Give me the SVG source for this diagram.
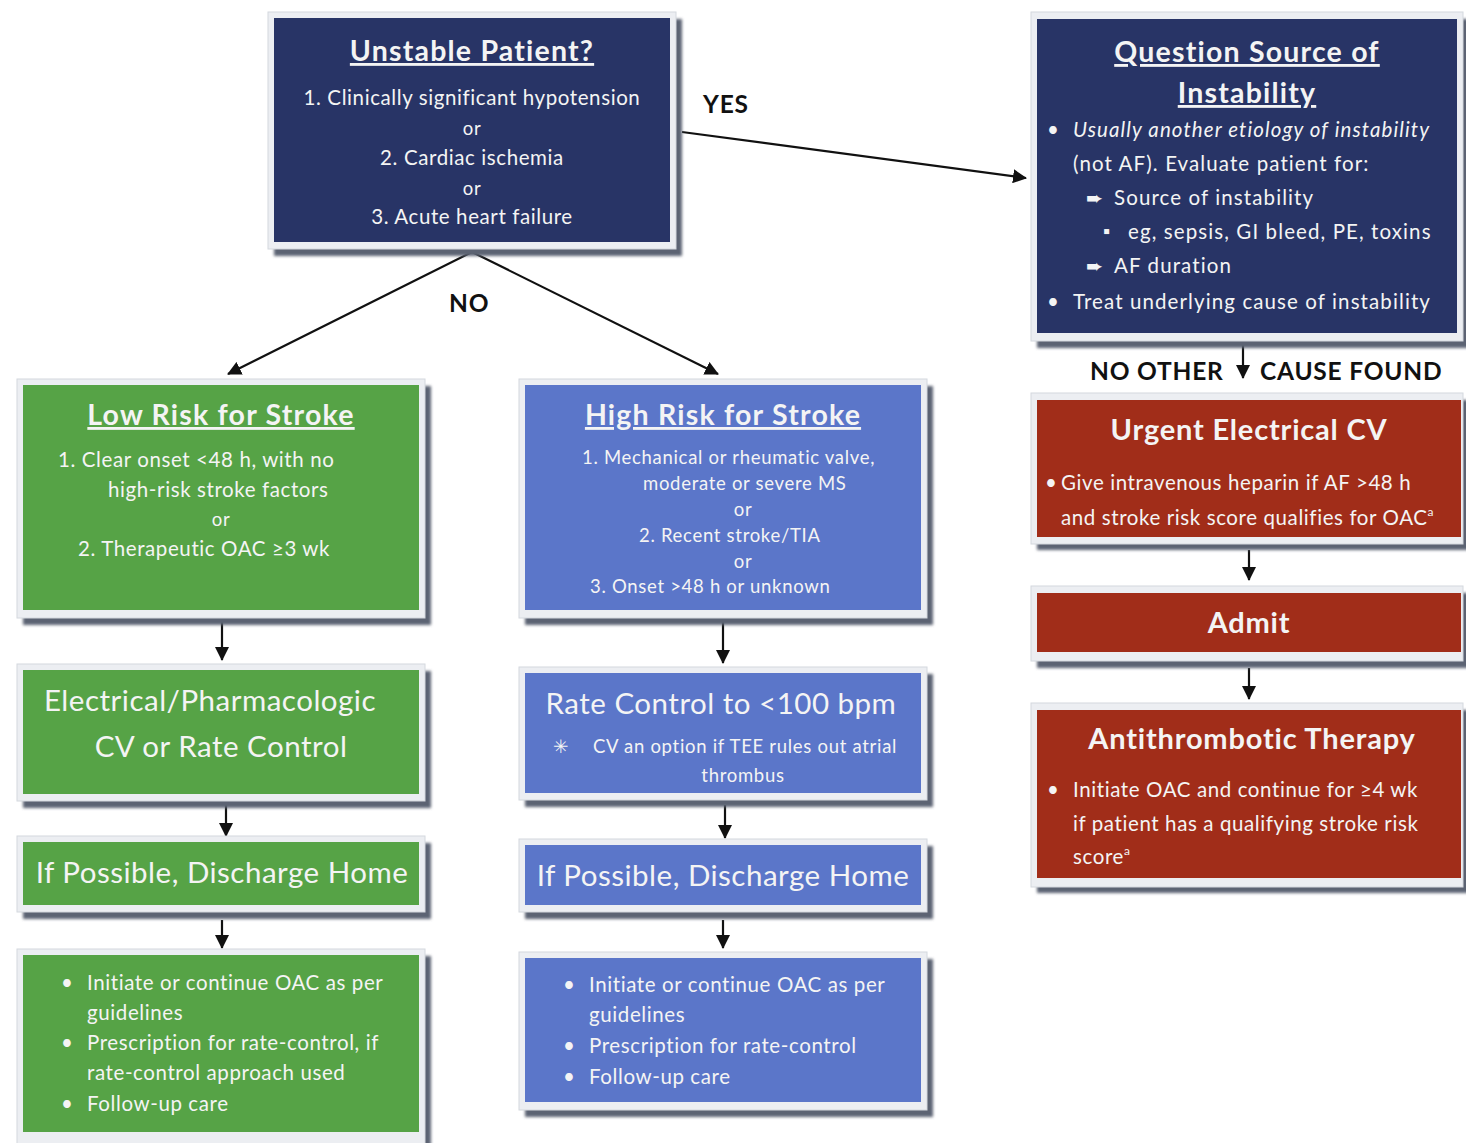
<svg xmlns="http://www.w3.org/2000/svg" width="1466" height="1143" viewBox="0 0 1466 1143">
<style>
text{font-family:Lato,"Open Sans","Liberation Sans",sans-serif;fill:#f4f4f4}
.t{font-size:28.5px;font-weight:bold;text-decoration:underline;text-anchor:middle;letter-spacing:1.2px}
.h{font-size:29px;font-weight:bold;text-anchor:middle;letter-spacing:0.8px}
.b{font-size:20.5px;letter-spacing:0.6px}
.q{font-size:20.5px;letter-spacing:1.1px}
.s{font-size:18.5px;letter-spacing:0.7px}
.c{text-anchor:middle}
.big{font-size:29.5px;letter-spacing:0.5px}
.lab{font-size:24.5px;font-weight:bold;fill:#111;letter-spacing:0.8px}
.sym{font-family:"DejaVu Sans",sans-serif;letter-spacing:0}
.frame{fill:#eceef2;stroke:#d4d8de;stroke-width:1}
.shadow{fill:#5c6373}
.navy{fill:#283466}
.green{fill:#56a346}
.blue{fill:#5b76c9}
.red{fill:#a12d19}
.con{stroke:#111;stroke-width:2.2;fill:none;marker-end:url(#ah)}
</style>
<defs>
<marker id="ah" viewBox="0 0 14 14" refX="13" refY="7" markerWidth="14" markerHeight="14" markerUnits="userSpaceOnUse" orient="auto">
<path d="M0,0 L14,7 L0,14 z" fill="#111"/>
</marker>
<filter id="blur" x="-5%" y="-5%" width="110%" height="110%"><feGaussianBlur stdDeviation="1.5"/></filter>
</defs>
<rect width="1466" height="1143" fill="#ffffff"/>

<g id="connectors">
<path class="con" d="M472,252 L228,374"/>
<path class="con" d="M472,252 L718,374"/>
<path class="con" d="M682,132 L1026,178"/>
<path class="con" d="M1243,344 L1243,378"/>
<path class="con" d="M1249,550 L1249,580"/>
<path class="con" d="M1249,668 L1249,699"/>
<path class="con" d="M222,622 L222,660"/>
<path class="con" d="M226,805 L226,836"/>
<path class="con" d="M222,920 L222,948"/>
<path class="con" d="M723,622 L723,663"/>
<path class="con" d="M725,805 L725,838"/>
<path class="con" d="M723,920 L723,948"/>
<text class="lab" x="703" y="113">YES</text>
<text class="lab" x="449" y="312">NO</text>
<text class="lab" x="1090" y="380">NO OTHER</text>
<text class="lab" x="1260" y="380">CAUSE FOUND</text>
</g>

<g id="unstable">
<rect class="shadow" filter="url(#blur)" x="274" y="19" width="408" height="237"/>
<rect class="frame" x="268" y="12" width="408" height="237"/>
<rect class="navy" x="274" y="18" width="396" height="224"/>
<text class="t" x="472" y="61">Unstable Patient?</text>
<text class="b c" x="472" y="105">1. Clinically significant hypotension</text>
<text class="s c" x="472" y="135">or</text>
<text class="b c" x="472" y="165">2. Cardiac ischemia</text>
<text class="s c" x="472" y="195">or</text>
<text class="b c" x="472" y="224">3. Acute heart failure</text>
</g>

<g id="question">
<rect class="shadow" filter="url(#blur)" x="1037" y="19" width="432" height="329"/>
<rect class="frame" x="1031" y="12" width="432" height="329"/>
<rect class="navy" x="1037" y="19" width="420" height="314"/>
<text class="t" x="1247" y="62">Question Source of</text>
<text class="t" x="1247" y="103">Instability</text>
<text class="q" x="1047" y="137">•</text>
<text class="q" x="1073" y="137" font-style="italic" letter-spacing="1.5">Usually another etiology  of instability</text>
<text class="q" x="1073" y="171">(not AF). Evaluate patient for:</text>
<text class="q sym" x="1086" y="205" font-size="20">➨</text>
<text class="q" x="1114" y="205">Source of instability</text>
<text class="s" x="1103" y="238">▪</text>
<text class="q" x="1128" y="239">eg, sepsis, GI bleed, PE, toxins</text>
<text class="q sym" x="1086" y="273" font-size="20">➨</text>
<text class="q" x="1114" y="273">AF duration</text>
<text class="q" x="1047" y="309">•</text>
<text class="q" x="1073" y="309">Treat underlying cause of instability</text>
</g>

<g id="urgent">
<rect class="shadow" filter="url(#blur)" x="1037" y="400" width="432" height="150"/>
<rect class="frame" x="1031" y="393" width="432" height="151"/>
<rect class="red" x="1037" y="400" width="424" height="137"/>
<text class="h" x="1249" y="440">Urgent Electrical CV</text>
<text class="b" x="1045" y="490">•</text>
<text class="b" x="1061" y="490">Give intravenous heparin if AF &gt;48 h</text>
<text class="b" x="1061" y="525">and stroke risk score qualifies for OAC<tspan font-size="12" dy="-9">a</tspan></text>
</g>

<g id="admit">
<rect class="shadow" filter="url(#blur)" x="1037" y="593" width="432" height="75"/>
<rect class="frame" x="1031" y="586" width="432" height="75"/>
<rect class="red" x="1037" y="593" width="424" height="59"/>
<text class="h" x="1249" y="633">Admit</text>
</g>

<g id="antithrombotic">
<rect class="shadow" filter="url(#blur)" x="1037" y="710" width="432" height="183"/>
<rect class="frame" x="1031" y="703" width="432" height="184"/>
<rect class="red" x="1037" y="710" width="424" height="168"/>
<text class="h" x="1252" y="749">Antithrombotic Therapy</text>
<text class="b" x="1047" y="797">•</text>
<text class="b" x="1073" y="797">Initiate OAC and continue for ≥4 wk</text>
<text class="b" x="1073" y="831">if patient has a qualifying stroke risk</text>
<text class="b" x="1073" y="864">score<tspan font-size="12" dy="-9">a</tspan></text>
</g>

<g id="lowrisk">
<rect class="shadow" filter="url(#blur)" x="23" y="386" width="408" height="239"/>
<rect class="frame" x="17" y="379" width="408" height="239"/>
<rect class="green" x="23" y="385" width="396" height="225"/>
<text class="t" x="221" y="425">Low Risk for Stroke</text>
<text class="b" x="58" y="467">1. Clear onset &lt;48 h, with no</text>
<text class="b" x="108" y="497">high-risk stroke factors</text>
<text class="s c" x="221" y="526">or</text>
<text class="b" x="78" y="556">2. Therapeutic OAC ≥3 wk</text>
</g>

<g id="highrisk">
<rect class="shadow" filter="url(#blur)" x="525" y="386" width="408" height="239"/>
<rect class="frame" x="519" y="379" width="408" height="239"/>
<rect class="blue" x="525" y="385" width="396" height="225"/>
<text class="t" x="723" y="425">High Risk for Stroke</text>
<text class="s" x="582" y="464">1.  Mechanical or rheumatic valve,</text>
<text class="s" x="643" y="490">moderate or severe MS</text>
<text class="s c" x="743" y="516">or</text>
<text class="s" x="639" y="542">2.  Recent stroke/TIA</text>
<text class="s c" x="743" y="568">or</text>
<text class="s" x="590" y="593">3.  Onset &gt;48 h or unknown</text>
</g>

<g id="cvrate">
<rect class="shadow" filter="url(#blur)" x="23" y="671" width="408" height="137"/>
<rect class="frame" x="17" y="664" width="408" height="137"/>
<rect class="green" x="23" y="670" width="396" height="124"/>
<text class="big c" x="210" y="711">Electrical/Pharmacologic</text>
<text class="big c" x="221" y="757">CV or Rate Control</text>
</g>

<g id="ratecontrol">
<rect class="shadow" filter="url(#blur)" x="525" y="674" width="408" height="133"/>
<rect class="frame" x="519" y="667" width="408" height="133"/>
<rect class="blue" x="525" y="673" width="396" height="120"/>
<text class="big c" x="721" y="714">Rate Control to &lt;100 bpm</text>
<text class="s sym" x="553" y="753">✳</text>
<text class="s" x="593" y="753">CV an option if TEE rules out atrial</text>
<text class="s c" x="743" y="782">thrombus</text>
</g>

<g id="dischargeleft">
<rect class="shadow" filter="url(#blur)" x="23" y="843" width="408" height="76"/>
<rect class="frame" x="17" y="836" width="408" height="76"/>
<rect class="green" x="23" y="842" width="396" height="63"/>
<text class="big c" x="222" y="883">If Possible, Discharge Home</text>
</g>

<g id="dischargeright">
<rect class="shadow" filter="url(#blur)" x="525" y="846" width="408" height="73"/>
<rect class="frame" x="519" y="839" width="408" height="73"/>
<rect class="blue" x="525" y="845" width="396" height="60"/>
<text class="big c" x="723" y="886">If Possible, Discharge Home</text>
</g>

<g id="followleft">
<rect class="shadow" filter="url(#blur)" x="23" y="956" width="408" height="195"/>
<rect class="frame" x="17" y="949" width="408" height="195"/>
<rect class="green" x="23" y="955" width="396" height="177"/>
<text class="b" x="61" y="990">•</text>
<text class="b" x="87" y="990">Initiate or continue OAC as per</text>
<text class="b" x="87" y="1020">guidelines</text>
<text class="b" x="61" y="1050">•</text>
<text class="b" x="87" y="1050">Prescription for rate-control, if</text>
<text class="b" x="87" y="1080">rate-control approach used</text>
<text class="b" x="61" y="1111">•</text>
<text class="b" x="87" y="1111">Follow-up care</text>
</g>

<g id="followright">
<rect class="shadow" filter="url(#blur)" x="525" y="959" width="408" height="158"/>
<rect class="frame" x="519" y="952" width="408" height="158"/>
<rect class="blue" x="525" y="958" width="396" height="144"/>
<text class="b" x="563" y="992">•</text>
<text class="b" x="589" y="992">Initiate or continue OAC as per</text>
<text class="b" x="589" y="1022">guidelines</text>
<text class="b" x="563" y="1053">•</text>
<text class="b" x="589" y="1053">Prescription for rate-control</text>
<text class="b" x="563" y="1084">•</text>
<text class="b" x="589" y="1084">Follow-up care</text>
</g>
</svg>
